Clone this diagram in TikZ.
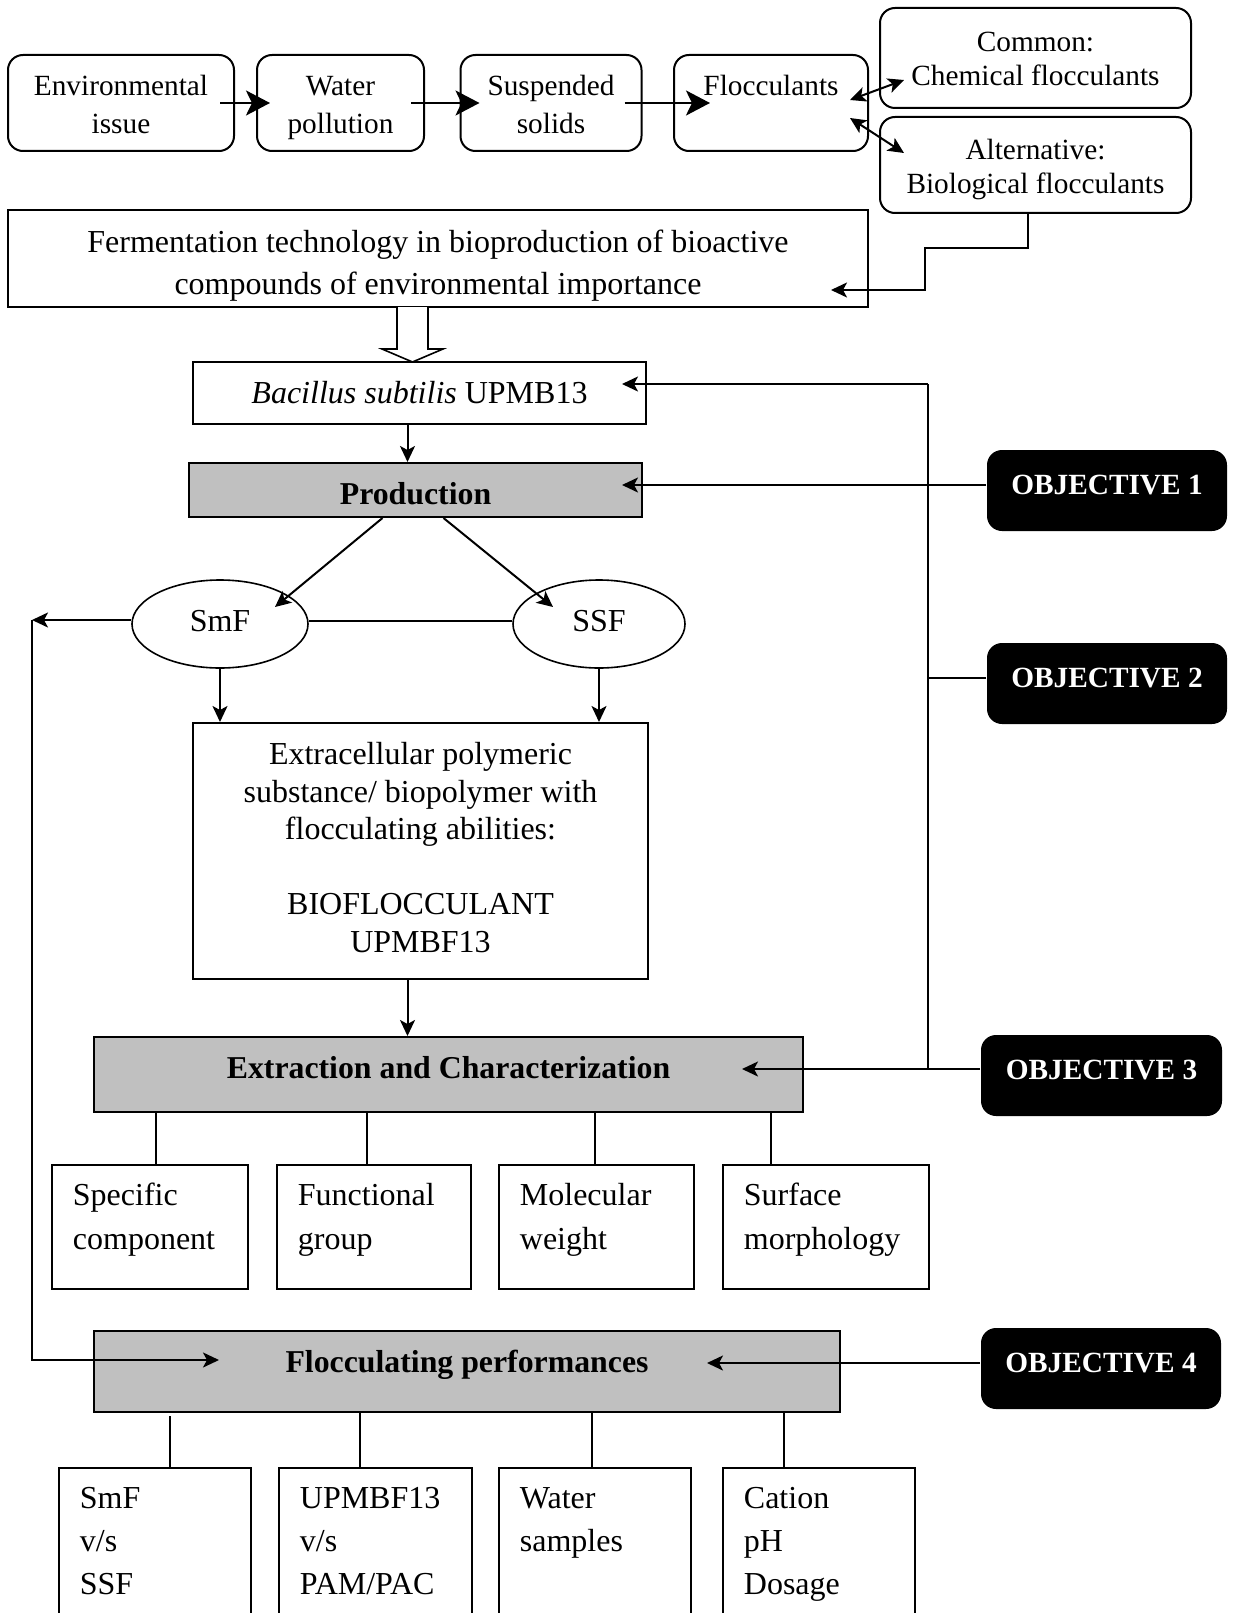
\documentclass[tikz,border=0pt]{standalone}
\usepackage{fontspec}
\setmainfont{Liberation Serif}
\usetikzlibrary{arrows.meta,shapes.geometric}

\definecolor{headgray}{HTML}{C0C0C0}

\begin{document}
\begin{tikzpicture}[
        x=1pt, y=-1pt, line width=2pt,
        every node/.style={font=\fontsize{32}{37.5}\selectfont, line width=2pt},
        rbox/.style={draw, rounded corners=15pt, align=center, minimum height=96pt, font=\fontsize{29.3}{37.5}\selectfont},
        plain/.style={draw, align=center},
        head/.style={draw, fill=headgray, font=\fontsize{31.8}{37.5}\selectfont\bfseries},
        oval/.style={draw, ellipse, line width=1.6pt, minimum width=176pt, minimum height=88pt, text depth=7pt},
        objbox/.style={fill=black, text=white, rounded corners=15pt, minimum width=240pt, minimum height=81pt, text depth=11pt, font=\fontsize{29.3}{37.5}\selectfont\bfseries},
        leaf/.style={draw, line width=1.8pt, align=left, anchor=north west, inner xsep=21pt},
        flecha/.style={-{Stealth[length=16pt,width=15pt,inset=4pt]}, line width=2pt},
        bigflecha/.style={-{Stealth[length=24pt,width=25pt,inset=6pt]}, line width=2.5pt},
        dflecha/.style={{Stealth[length=16pt,width=15pt,inset=4pt]}-{Stealth[length=16pt,width=15pt,inset=4pt]}, line width=2pt}
    ]
    \useasboundingbox (0,0) rectangle (1233,1613);
    \clip (0,0) rectangle (1233,1613);

    % top row
    \node (env) [rbox, minimum width=226pt] at (121,103) {\rule{0pt}{34pt}Environmental\\\strut issue};
    \node (water) [rbox, minimum width=167pt] at (340.5,103) {\rule{0pt}{34pt}Water\\\strut pollution};
    \node (susp) [rbox, minimum width=181pt] at (551,103) {\rule{0pt}{34pt}Suspended\\\strut solids};
    \node (flocc) [rbox, minimum width=194pt] at (771,103) {\rule{0pt}{34pt}Flocculants\\\strut};
    \node (common) [rbox, minimum width=311pt, minimum height=100pt] at (1035.5,58) {\rule{0pt}{32pt}Common:\\[-4pt]\strut Chemical flocculants};
    \node (alt) [rbox, minimum width=311pt, minimum height=96pt] at (1035.5,165) {\rule{0pt}{34pt}Alternative:\\[-4pt]\strut Biological flocculants};

    \draw [bigflecha] ([xshift=-15pt]env.east) -- ([xshift=14pt]water.west);
    \draw [bigflecha] ([xshift=-14pt]water.east) -- ([xshift=20pt]susp.west);
    \draw [bigflecha] ([xshift=-18pt]susp.east) -- ([xshift=37pt]flocc.west);
    \draw [dflecha] ([xshift=-19pt,yshift=3pt]flocc.east) -- ([xshift=25pt,yshift=-22pt]common.west);
    \draw [dflecha] ([xshift=-19pt,yshift=-15pt]flocc.east) -- ([xshift=25pt,yshift=12pt]alt.west);

    % fermentation
    \node (ferm) [plain, minimum width=860pt, minimum height=97pt, inner ysep=0pt] at (438,258.5) {\rule{0pt}{42pt}Fermentation technology in bioproduction of bioactive\\[4.5pt]\strut compounds of environmental importance};
    \coordinate (e1) at (925,248);
    \coordinate (e2) at (831,290);
    \draw [flecha] ([xshift=-8pt]alt.south) |- (e1) |- (e2);

    % hollow arrow
    \draw [line width=1.6pt, fill=white] (397,307) -- (397,349) -- (382,349) -- (412.5,362) -- (443,349) -- (428,349) -- (428,307);

    \node (bac) [plain, minimum width=453pt, minimum height=62pt] at (419.5,393) {\textit{Bacillus subtilis} UPMB13};
    \node (prod) [head, minimum width=453pt, minimum height=54pt, text height=30pt] at (415.5,490) {Production};
    \draw [flecha] ([xshift=-12pt]bac.south) -- ([xshift=-12pt]bac.south |- prod.north);

    \node (smf) [oval] at (220,624) {SmF};
    \node (ssf) [oval, minimum width=172pt] at (599,624) {SSF};
    \draw [flecha] ([xshift=-33pt]prod.south) -- ([xshift=55pt,yshift=17pt]smf.center);
    \draw [flecha] ([xshift=28pt]prod.south) -- ([xshift=-46pt,yshift=17pt]ssf.center);
    \draw [line width=1.6pt] ([yshift=3pt]smf.east) -- ([yshift=3pt]ssf.west);

    \node (eps) [plain, minimum width=455pt, minimum height=256pt] at (420.5,851) {\strut Extracellular polymeric\\\strut substance/ biopolymer with\\\strut flocculating abilities:\\\strut\\\strut BIOFLOCCULANT\\\strut UPMBF13};
    \draw [flecha] (smf.south) -- (smf.south |- eps.north);
    \draw [flecha] (ssf.south) -- (ssf.south |- eps.north);

    \node (ext) [head, minimum width=709pt, minimum height=75pt, text depth=15pt] at (448.5,1074.5) {Extraction and Characterization};
    \draw [flecha] ([xshift=-13pt]eps.south) -- ([xshift=-13pt]eps.south |- ext.north);

    % characterization leaves
    \node (spec) [leaf, text width=154pt, minimum height=124pt, text depth=66pt] at (51,1164) {Specific\\[6.5pt]component};
    \node (func) [leaf, text width=152pt, minimum height=124pt, text depth=66pt] at (276,1164) {Functional\\[6.5pt]group};
    \node (mol) [leaf, text width=153pt, minimum height=124pt, text depth=66pt] at (498,1164) {Molecular\\[6.5pt]weight};
    \node (surf) [leaf, text width=164pt, minimum height=124pt, text depth=66pt] at (722,1164) {Surface\\[6.5pt]morphology};
    \draw [line width=1.6pt] ([xshift=6pt]spec.north) -- ([xshift=6pt]spec.north |- ext.south);
    \draw [line width=1.6pt] ([xshift=-7pt]func.north) -- ([xshift=-7pt]func.north |- ext.south);
    \draw [line width=1.6pt] ([xshift=-1.5pt]mol.north) -- ([xshift=-1.5pt]mol.north |- ext.south);
    \draw [line width=1.6pt] ([xshift=-55pt]surf.north) -- ([xshift=-55pt]surf.north |- ext.south);

    \node (perf) [head, minimum width=746pt, minimum height=81pt, text depth=21pt] at (467,1371.5) {Flocculating performances};

    % performance leaves
    \node (b1) [leaf, text width=150pt, minimum height=200pt, text depth=140pt] at (58,1467) {SmF\\[5.5pt]v/s\\[5.5pt]SSF};
    \node (b2) [leaf, text width=151pt, minimum height=200pt, text depth=140pt] at (278,1467) {UPMBF13\\[5.5pt]v/s\\[5.5pt]PAM/PAC};
    \node (b3) [leaf, text width=150pt, minimum height=200pt, text depth=140pt] at (498,1467) {Water\\[5.5pt]samples};
    \node (b4) [leaf, text width=150pt, minimum height=200pt, text depth=140pt] at (722,1467) {Cation\\[5.5pt]pH\\[5.5pt]Dosage};
    \draw [line width=1.6pt] ([xshift=15pt]b1.north) -- ([xshift=15pt,yshift=51pt]b1.north);
    \draw [line width=1.6pt] ([xshift=-15.5pt]b2.north) -- ([xshift=-15.5pt]b2.north |- perf.south);
    \draw [line width=1.6pt] ([xshift=-3pt]b3.north) -- ([xshift=-3pt]b3.north |- perf.south);
    \draw [line width=1.6pt] ([xshift=-35pt]b4.north) -- ([xshift=-35pt]b4.north |- perf.south);

    % objectives
    \node (obj1) [objbox] at (1107,490.5) {OBJECTIVE 1};
    \node (obj2) [objbox] at (1107,683.5) {OBJECTIVE 2};
    \node (obj3) [objbox, minimum width=241pt] at (1101.5,1075.5) {OBJECTIVE 3};
    \node (obj4) [objbox] at (1101,1368.5) {OBJECTIVE 4};

    \coordinate (rtop) at (928,384);
    \coordinate (rmid) at (928,678);
    \coordinate (rbot) at (928,1069);
    \coordinate (t0) at (622,384);
    \coordinate (t1) at (622,485);
    \coordinate (t3) at (742,1069);
    \coordinate (t4) at (707,1363);
    \draw [flecha] (rtop) -- (t0);
    \draw (rtop) -- (rbot);
    \draw [flecha] (obj1.west |- t1) -- (t1);
    \draw (obj2.west |- rmid) -- (rmid);
    \draw [flecha] (obj3.west |- t3) -- (t3);
    \draw [flecha] (obj4.west |- t4) -- (t4);

    % loop back from SmF
    \coordinate (lft) at (32,620);
    \coordinate (lbot) at (32,1360);
    \coordinate (t5) at (219,1360);
    \draw [flecha] ([yshift=4pt]smf.west) -- (lft);
    \draw [flecha] (lft) -- (lbot) -- (t5);
\end{tikzpicture}
\end{document}
